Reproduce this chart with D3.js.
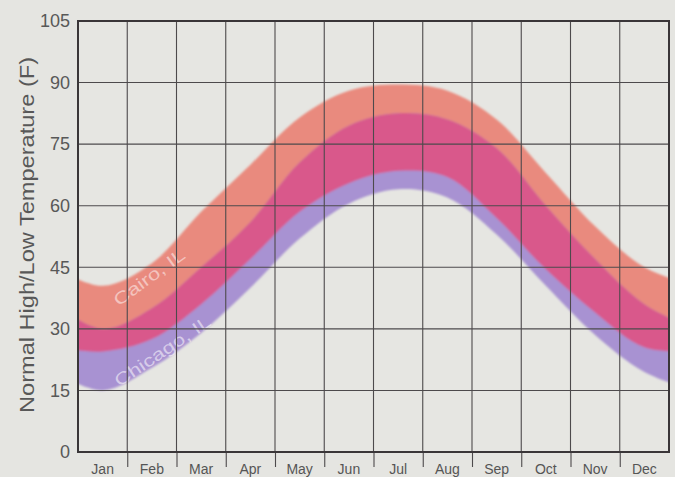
<!DOCTYPE html>
<html>
<head>
<meta charset="utf-8">
<script src="https://cdn.jsdelivr.net/npm/d3@7"></script>
<style>
  html, body { margin: 0; padding: 0; background: #e5e5e1; }
  svg { display: block; }
</style>
</head>
<body>
<svg id="chart" width="675" height="477"></svg>
<script>
// ---- data (normal monthly high / low, °F) ----
const months = ["Jan","Feb","Mar","Apr","May","Jun","Jul","Aug","Sep","Oct","Nov","Dec"];
const cairoHigh   = [40.5, 46, 58.5, 70, 81.5, 88, 89.5, 88, 81, 68, 55, 45];
const cairoLow    = [24.5, 27.5, 36, 47, 58.5, 65.5, 68.5, 67, 57, 44.5, 34, 25.5];
const chicagoHigh = [30, 35, 45, 56, 70.5, 79.5, 82.5, 81, 74, 60, 47, 36];
const chicagoLow  = [15, 20.5, 29, 40, 52, 60.5, 64, 62, 53, 40.5, 28.5, 19.5];
const yTicks = [0, 15, 30, 45, 60, 75, 90, 105];
const seriesLabels = ["Cairo, IL", "Chicago, IL"];

(function () {
const svg = d3.select("#chart");
const pL = 78, pR = 669, pT = 21, pB = 452;

const x = d3.scaleLinear().domain([0, 12]).range([pL, pR]);
const y = d3.scaleLinear().domain([0, 105]).range([pB, pT]);
const xb = d3.scaleBand().domain(months).range([pL, pR]);

// points at mid-month, wrapped around the year so the curve runs edge to edge
function pts(hi, lo) {
  const n = hi.length;
  const arr = [];
  for (let i = -1; i <= n; i++) {
    const k = (i + n) % n;
    arr.push({ m: i + 0.5, hi: hi[k], lo: lo[k] });
  }
  return arr;
}
const cairo = pts(cairoHigh, cairoLow);
const chicago = pts(chicagoHigh, chicagoLow);

const area = d3.area()
  .x(d => x(d.m)).y0(d => y(d.lo)).y1(d => y(d.hi))
  .curve(d3.curveCatmullRom.alpha(0.5));

const defs = svg.append("defs");
defs.append("clipPath").attr("id", "plotClip")
  .append("rect").attr("x", pL).attr("y", pT)
  .attr("width", pR - pL).attr("height", pB - pT);
defs.append("clipPath").attr("id", "cairoClip")
  .append("path").attr("d", area(cairo));
const f = defs.append("filter").attr("id", "soft")
  .attr("x", "-5%").attr("y", "-5%").attr("width", "110%").attr("height", "110%");
f.append("feGaussianBlur").attr("stdDeviation", 1.2);

// plot background
svg.append("rect").attr("x", pL).attr("y", pT)
  .attr("width", pR - pL).attr("height", pB - pT)
  .attr("fill", "#e6e6e2");

// bands
const bands = svg.append("g").attr("clip-path", "url(#plotClip)")
  .append("g").attr("filter", "url(#soft)");
bands.append("path").attr("d", area(cairo)).attr("fill", "#e98a7e");
bands.append("path").attr("d", area(chicago)).attr("fill", "#a892d2");
bands.append("g").attr("clip-path", "url(#cairoClip)")
  .append("path").attr("d", area(chicago)).attr("fill", "#d9588b");

// band labels
svg.append("text")
  .attr("transform", `translate(${x(1.45)},${y(42.5)}) rotate(-36)`)
  .attr("text-anchor", "middle").attr("dominant-baseline", "central")
  .attr("font-family", "Liberation Sans, Arial, sans-serif")
  .attr("font-size", 17).attr("fill", "#ffffff").attr("fill-opacity", 0.5)
  .attr("textLength", 84).attr("lengthAdjust", "spacingAndGlyphs")
  .text(seriesLabels[0]);
svg.append("text")
  .attr("transform", `translate(${x(1.72)},${y(24.5)}) rotate(-34)`)
  .attr("text-anchor", "middle").attr("dominant-baseline", "central")
  .attr("font-family", "Liberation Sans, Arial, sans-serif")
  .attr("font-size", 17).attr("fill", "#ffffff").attr("fill-opacity", 0.55)
  .attr("textLength", 112).attr("lengthAdjust", "spacingAndGlyphs")
  .text(seriesLabels[1]);

// grid
const grid = svg.append("g").attr("stroke", "#4d4a4c").attr("stroke-width", 1.1);
grid.selectAll("line.h").data(yTicks.filter(t => t > 0 && t < 105)).join("line")
  .attr("x1", pL).attr("x2", pR).attr("y1", d => y(d)).attr("y2", d => y(d));
grid.selectAll("line.v").data(d3.range(1, 12)).join("line")
  .attr("y1", pT).attr("y2", pB).attr("x1", d => x(d)).attr("x2", d => x(d));

// month boundary ticks below axis
const xTickAxis = d3.axisBottom(x).tickValues(d3.range(1, 12)).tickSize(15).tickFormat("");
const gxt = svg.append("g").attr("transform", `translate(0,${pB})`).call(xTickAxis);
gxt.select(".domain").remove();
gxt.selectAll("line").attr("stroke", "#4d4a4c").attr("stroke-width", 1.1);

// month labels
const gx = svg.append("g").attr("transform", `translate(0,${pB})`)
  .call(d3.axisBottom(xb).tickSize(0).tickPadding(0));
gx.select(".domain").remove();
gx.selectAll("text")
  .attr("y", 12).attr("dy", "0.71em")
  .attr("font-family", "Liberation Sans, Arial, sans-serif")
  .attr("font-size", 14).attr("fill", "#555");

// y axis labels
const gy = svg.append("g").attr("transform", `translate(${pL},0)`)
  .call(d3.axisLeft(y).tickValues(yTicks).tickSize(0).tickPadding(8));
gy.select(".domain").remove();
gy.selectAll("text")
  .attr("font-family", "Liberation Sans, Arial, sans-serif")
  .attr("font-size", 18).attr("fill", "#585858");

// border
svg.append("rect").attr("x", pL).attr("y", pT)
  .attr("width", pR - pL).attr("height", pB - pT)
  .attr("fill", "none").attr("stroke", "#3a3638").attr("stroke-width", 2);

// y title
svg.append("text")
  .attr("transform", `translate(34,${(57 + 413) / 2}) rotate(-90)`)
  .attr("text-anchor", "middle")
  .attr("font-family", "Liberation Sans, Arial, sans-serif")
  .attr("font-size", 21).attr("fill", "#585858")
  .attr("textLength", 356).attr("lengthAdjust", "spacingAndGlyphs")
  .text("Normal High/Low Temperature (F)");
})();
</script>
</body>
</html>
